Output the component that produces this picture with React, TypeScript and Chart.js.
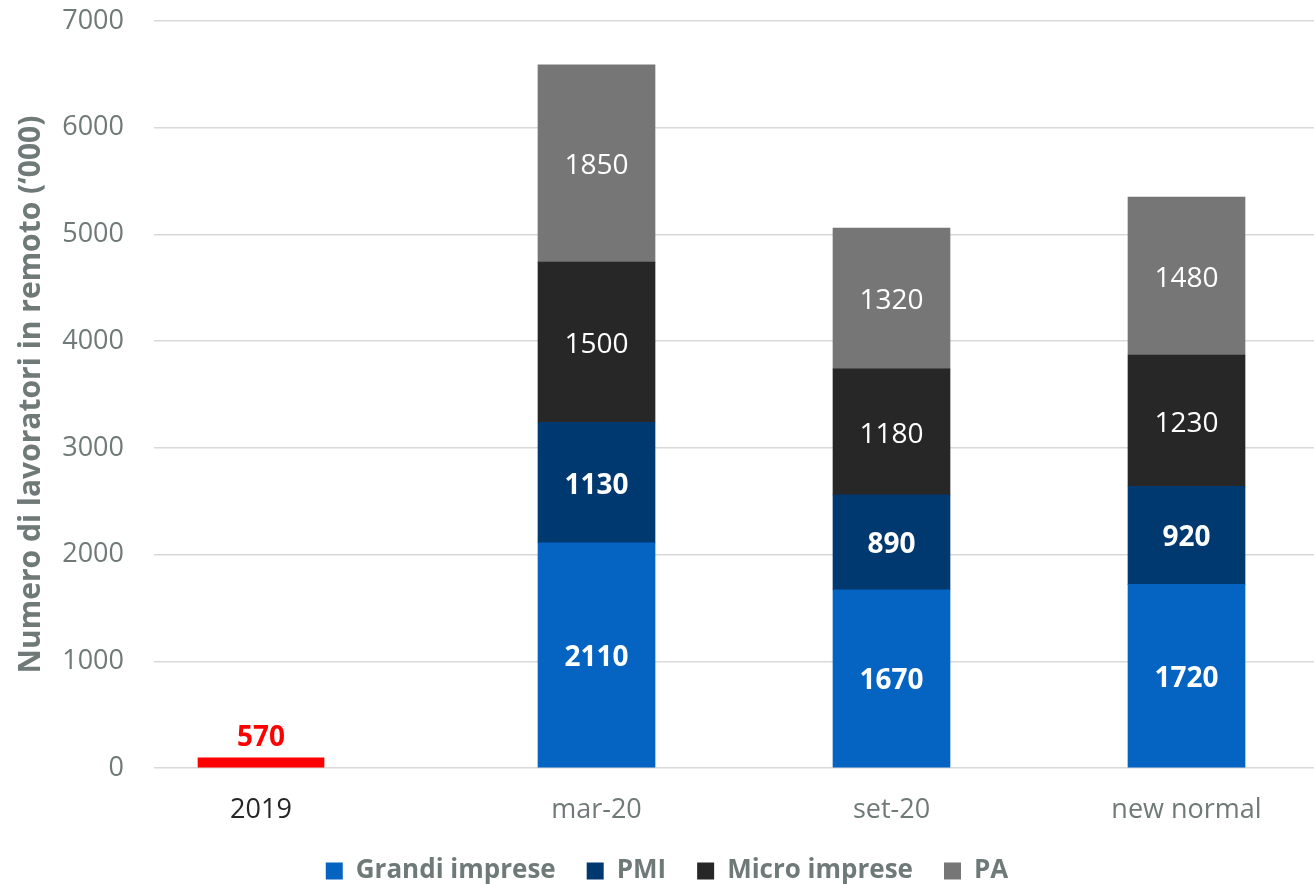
import React, { useEffect, useRef } from 'react';
import { Chart, registerables, CategoryScale } from 'chart.js';

const categories = ['2019', 'mar-20', 'set-20', 'new normal'];
const grandiImprese = [null, 2110, 1670, 1720];
const pmi = [null, 1130, 890, 920];
const microImprese = [null, 1500, 1180, 1230];
const pa = [null, 1850, 1320, 1480];
// 2019 marker: drawn height as it appears in the picture, and its printed value
const marker2019 = [95, null, null, null];
const marker2019Labels = ['570', null, null, null];
const yTicks = [0, 1000, 2000, 3000, 4000, 5000, 6000, 7000];

const GRAY_TEXT = '#6f7a78';
const FONT = "'Open Sans', 'DejaVu Sans', sans-serif";

class ShiftedCategoryScale extends CategoryScale {
  static id = 'shiftedCategory';
  getPixelForValue(value: any, index?: number) {
    const px = super.getPixelForValue(value, index);
    const v = typeof value === 'number' ? value : (this as any).parse(value);
    const shift = (this.options as any).firstCategoryShift || 0;
    return v === 0 ? px + shift : px;
  }
}

Chart.register(...registerables, ShiftedCategoryScale);

const labelStyles: Record<number, { bold: boolean; color: string; outside?: boolean; texts?: (string | null)[] }> = {
  0: { bold: true, color: '#ff0000', outside: true, texts: marker2019Labels },
  1: { bold: true, color: '#ffffff' },
  2: { bold: true, color: '#ffffff' },
  3: { bold: false, color: '#ffffff' },
  4: { bold: false, color: '#ffffff' },
};

const segmentLabels = {
  id: 'segmentLabels',
  afterDatasetsDraw(chart: any) {
    const ctx = chart.ctx;
    chart.data.datasets.forEach((ds: any, di: number) => {
      const meta = chart.getDatasetMeta(di);
      const st = labelStyles[di];
      if (!st) return;
      meta.data.forEach((bar: any, i: number) => {
        const v = ds.data[i];
        if (v === null || v === undefined) return;
        const text = st.texts ? st.texts[i] : String(v);
        if (!text) return;
        ctx.save();
        ctx.font = `${st.bold ? 'bold ' : ''}28px ${FONT}`;
        ctx.fillStyle = st.color;
        ctx.textAlign = 'center';
        ctx.textBaseline = 'middle';
        const y = st.outside ? bar.y - 20 : (bar.y + bar.base) / 2 + 3;
        ctx.fillText(text, bar.x, y);
        ctx.restore();
      });
    });
  },
};

export default function App() {
  const ref = useRef<HTMLCanvasElement | null>(null);
  useEffect(() => {
    if (!ref.current) return;
    const chart = new Chart(ref.current, {
      type: 'bar',
      data: {
        labels: categories,
        datasets: [
          { label: '2019', data: marker2019, backgroundColor: '#ff0000', barThickness: 126, stack: 's' },
          { label: 'Grandi imprese', data: grandiImprese, backgroundColor: '#0563c1', barThickness: 117, stack: 's' },
          { label: 'PMI', data: pmi, backgroundColor: '#003870', barThickness: 117, stack: 's' },
          { label: 'Micro imprese', data: microImprese, backgroundColor: '#272727', barThickness: 117, stack: 's' },
          { label: 'PA', data: pa, backgroundColor: '#767676', barThickness: 117, stack: 's' },
        ] as any,
      },
      options: {
        animation: false,
        responsive: true,
        maintainAspectRatio: false,
        layout: { padding: { top: 21, right: 16, left: 0, bottom: -10 } },
        plugins: {
          tooltip: { enabled: false },
          legend: {
            position: 'bottom',
            labels: {
              filter: (item: any) => item.datasetIndex !== 0,
              boxWidth: 17,
              boxHeight: 17,
              padding: 31,
              color: GRAY_TEXT,
              font: { family: FONT, size: 26, weight: 'bold' },
            },
          },
        },
        scales: {
          x: {
            type: 'shiftedCategory' as any,
            firstCategoryShift: -40.5,
            stacked: true,
            grid: { display: false, drawTicks: false },
            border: { display: false },
            afterFit: (s: any) => {
              s.height = 59;
            },
            ticks: {
              padding: 26,
              font: { family: FONT, size: 27 },
              color: (c: any) => (c.index === 0 ? '#262626' : GRAY_TEXT),
            },
          } as any,
          y: {
            stacked: true,
            min: 0,
            max: 7000,
            afterBuildTicks: (s: any) => {
              s.ticks = yTicks.map((v) => ({ value: v }));
            },
            afterFit: (s: any) => {
              s.width = 154;
              s.paddingTop = 0;
              s.paddingBottom = 0;
            },
            grid: { color: '#d9d9d9', lineWidth: 1.5, drawTicks: false },
            border: { display: false },
            ticks: {
              padding: 30,
              font: { family: FONT, size: 27 },
              color: GRAY_TEXT,
              callback: (v: any) => String(v),
            },
            title: {
              display: true,
              text: 'Numero di lavoratori in remoto (‘000)',
              color: GRAY_TEXT,
              font: { family: FONT, size: 30, weight: 'bold' },
              padding: { top: 13, bottom: 0 },
            },
          },
        },
      },
      plugins: [segmentLabels],
    });
    return () => chart.destroy();
  }, []);

  return (
    <div style={{ position: 'fixed', left: 0, top: 0, width: 1314, height: 884, overflow: 'hidden', background: '#fff' }}>
      <div style={{ position: 'relative', width: 1350, height: 884 }}>
        <canvas ref={ref} />
      </div>
    </div>
  );
}
